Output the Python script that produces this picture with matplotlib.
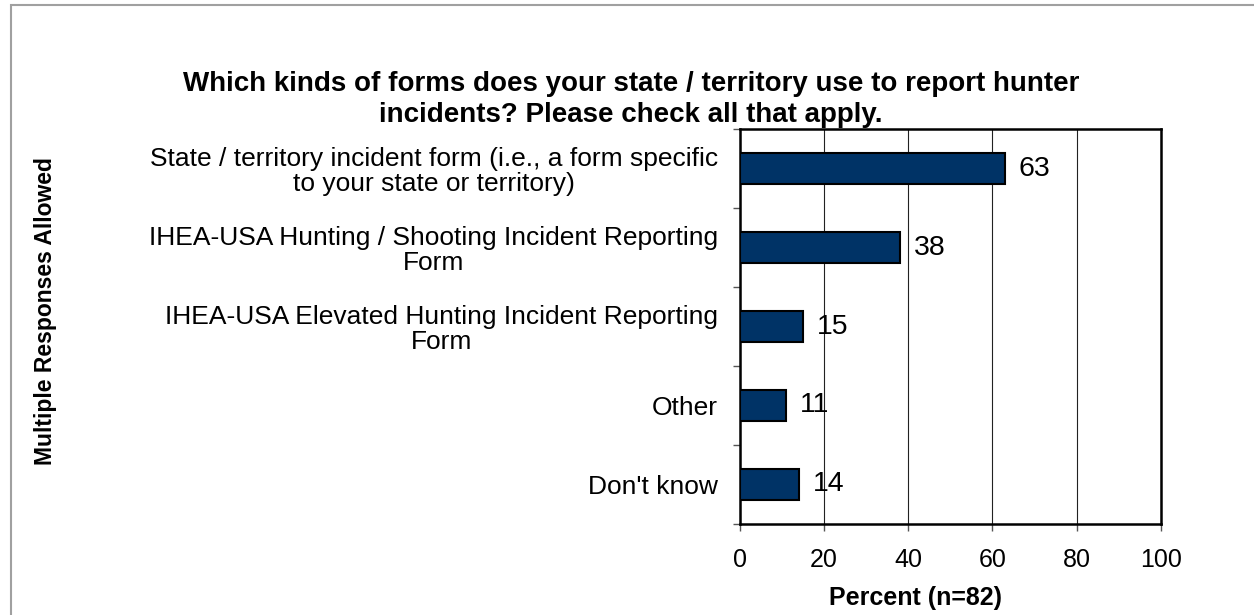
import matplotlib.pyplot as plt
from matplotlib.patches import Rectangle
import numpy as np

plt.rcParams['font.family'] = ['Liberation Sans', 'DejaVu Sans']

categorias = ["State / territory incident form (i.e., a form specific\nto your state or territory)",
              "IHEA-USA Hunting / Shooting Incident Reporting\nForm",
              "IHEA-USA Elevated Hunting Incident Reporting\nForm",
              "Other",
              "Don't know"]
valores = [63, 38, 15, 11, 14]
rotulos = ["63", "38", "15", "11", "14"]
xticks = [0, 20, 40, 60, 80, 100]

fig = plt.figure(figsize=(12.54, 6.15), dpi=100)
ax = fig.add_axes([0.590, 0.148, 0.3356, 0.6422])

y = np.arange(len(categorias))
bars = ax.barh(y, valores, height=0.4, color='#003366', edgecolor='black', linewidth=1.5, zorder=3)

ax.set_ylim(len(categorias) - 0.5, -0.5)
ax.set_xlim(0, 100)
ax.set_xticks(xticks)
ax.set_xticklabels([str(v) for v in xticks], fontsize=18)
ax.set_yticks(y)
ax.set_yticklabels(categorias, fontsize=19, multialignment='center', linespacing=1.05)
ax.set_yticks(np.arange(-0.5, len(categorias)), minor=True)
ax.tick_params(axis='y', which='major', length=0, pad=16)
ax.tick_params(axis='y', which='minor', length=5, width=1, color='#555555')
ax.tick_params(axis='x', length=5, width=1, color='#555555', pad=12)

ax.grid(axis='x', color='#222222', linewidth=0.8, zorder=0)
for s in ax.spines.values():
    s.set_linewidth(1.8)
    s.set_color('black')

ax.bar_label(bars, labels=rotulos, padding=10, fontsize=20.5)

fig.text(0.503, 0.839, "Which kinds of forms does your state / territory use to report hunter\nincidents? Please check all that apply.",
         ha='center', va='center', fontsize=20, fontweight='bold', linespacing=1.25)
fig.text(0.73, 0.028, "Percent (n=82)", ha='center', va='center', fontsize=18, fontweight='bold')
fig.text(0.036, 0.495, "Multiple Responses Allowed", ha='center', va='center', rotation=90,
         fontsize=16.5, fontweight='bold')

# moldura cinza
fig.patches.append(Rectangle((11 / 1254, -0.1), 1.2, 1 - 5 / 615 + 0.1, transform=fig.transFigure,
                             fill=False, edgecolor='#a0a0a0', linewidth=1.5))

fig.savefig('out.png', dpi=100)
